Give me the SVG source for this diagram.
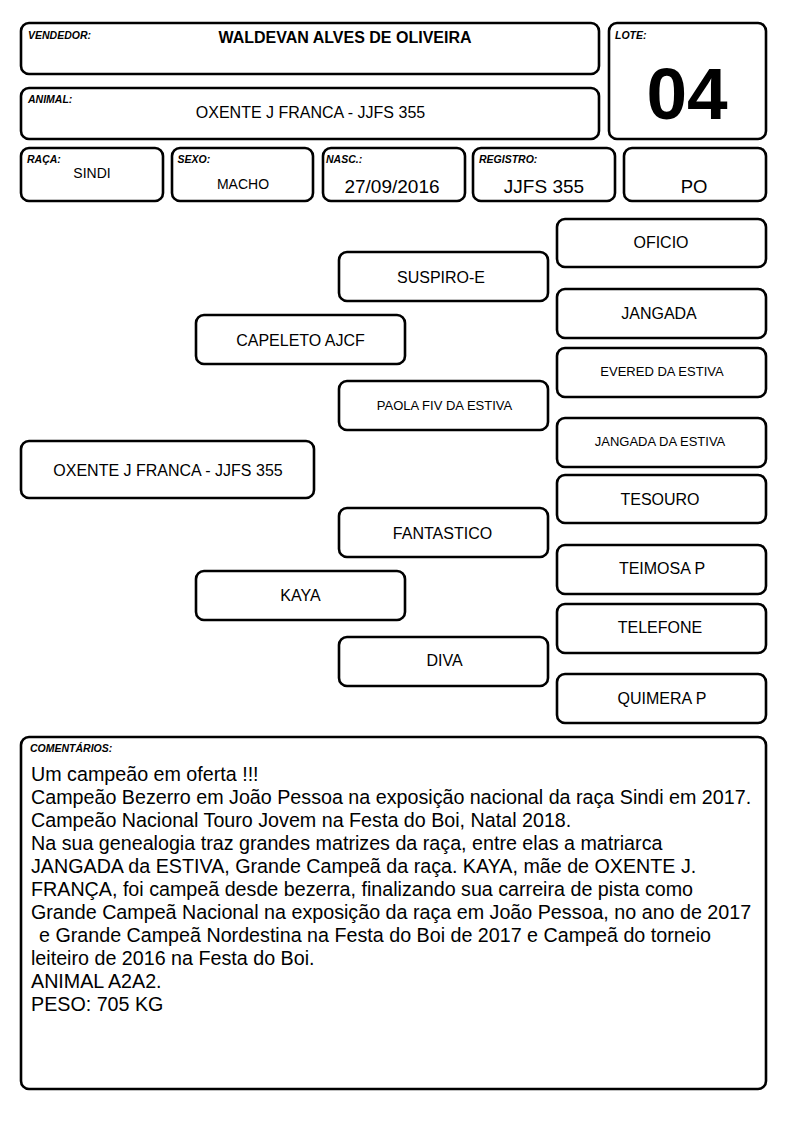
<svg xmlns="http://www.w3.org/2000/svg" width="794" height="1123" viewBox="0 0 794 1123">
<style>
.box{fill:#fff;stroke:#000;stroke-width:2.6}
text{font-family:"Liberation Sans",Arial,sans-serif;fill:#000}
.lbl{font-size:10.5px;font-weight:bold;font-style:italic}
.v14{font-size:14px;text-anchor:middle}
.v16{font-size:16px;text-anchor:middle}
.v19{font-size:19px;text-anchor:middle}
.p16{font-size:16px;text-anchor:middle}
.p13{font-size:13px;text-anchor:middle}
.cm{font-size:19.7px}
</style>
<rect width="794" height="1123" fill="#fff"/>
<g id="vendedor">
<rect class="box" x="21" y="23" width="578" height="51" rx="8"/>
<text class="lbl" x="28" y="39">VENDEDOR:</text>
<text x="345" y="43" style="font-size:16px;font-weight:bold;text-anchor:middle">WALDEVAN ALVES DE OLIVEIRA</text>
</g>
<g id="animal">
<rect class="box" x="21" y="88" width="578" height="51" rx="8"/>
<text class="lbl" x="28" y="103">ANIMAL:</text>
<text class="v16" x="310.5" y="118">OXENTE J FRANCA - JJFS 355</text>
</g>
<g id="lote">
<rect class="box" x="609" y="23" width="157" height="116" rx="8"/>
<text class="lbl" x="615" y="39">LOTE:</text>
<text x="687" y="118.5" style="font-size:73px;font-weight:bold;text-anchor:middle">04</text>
</g>
<g id="raca">
<rect class="box" x="21" y="148" width="142" height="53" rx="8"/>
<text class="lbl" x="27" y="163">RAÇA:</text>
<text class="v14" x="92" y="178">SINDI</text>
</g>
<g id="sexo">
<rect class="box" x="172" y="148" width="141" height="53" rx="8"/>
<text class="lbl" x="177.5" y="163">SEXO:</text>
<text class="v14" x="243" y="189">MACHO</text>
</g>
<g id="nasc">
<rect class="box" x="323" y="148" width="142" height="53" rx="8"/>
<text class="lbl" x="326" y="163">NASC.:</text>
<text class="v19" x="392" y="193">27/09/2016</text>
</g>
<g id="registro">
<rect class="box" x="473" y="148" width="142" height="53" rx="8"/>
<text class="lbl" x="479" y="163">REGISTRO:</text>
<text class="v19" x="544" y="193">JJFS 355</text>
</g>
<g id="po">
<rect class="box" x="624" y="148" width="142" height="53" rx="8"/>
<text x="694" y="193" style="font-size:18.5px;text-anchor:middle">PO</text>
</g>
<g id="connectors"></g>
<g id="ped-oxente">
<rect class="box" x="21" y="441" width="293" height="57" rx="8"/>
<text class="p16" x="168" y="476">OXENTE J FRANCA - JJFS 355</text>
</g>
<g id="ped-capeleto">
<rect class="box" x="196" y="315" width="209" height="49" rx="8"/>
<text class="p16" x="300.5" y="346">CAPELETO AJCF</text>
</g>
<g id="ped-kaya">
<rect class="box" x="196" y="571" width="209" height="49" rx="8"/>
<text class="p16" x="300.5" y="601">KAYA</text>
</g>
<g id="ped-suspiro">
<rect class="box" x="339" y="252" width="209" height="49" rx="8"/>
<text class="p16" x="441" y="282.5">SUSPIRO-E</text>
</g>
<g id="ped-paola">
<rect class="box" x="339" y="381" width="209" height="49" rx="8"/>
<text class="p13" x="444.5" y="410">PAOLA FIV DA ESTIVA</text>
</g>
<g id="ped-fantastico">
<rect class="box" x="339" y="508" width="209" height="49" rx="8"/>
<text class="p16" x="442.5" y="538.5">FANTASTICO</text>
</g>
<g id="ped-diva">
<rect class="box" x="339" y="637" width="209" height="49" rx="8"/>
<text class="p16" x="444.5" y="666">DIVA</text>
</g>
<g id="ped-oficio">
<rect class="box" x="557" y="219" width="209" height="48" rx="8"/>
<text class="p16" x="661" y="248">OFICIO</text>
</g>
<g id="ped-jangada">
<rect class="box" x="557" y="289" width="209" height="49" rx="8"/>
<text class="p16" x="659" y="318.5">JANGADA</text>
</g>
<g id="ped-evered">
<rect class="box" x="557" y="348" width="209" height="49" rx="8"/>
<text class="p13" x="662" y="376">EVERED DA ESTIVA</text>
</g>
<g id="ped-jangada-estiva">
<rect class="box" x="557" y="418" width="209" height="49" rx="8"/>
<text class="p13" x="660" y="445.5">JANGADA DA ESTIVA</text>
</g>
<g id="ped-tesouro">
<rect class="box" x="557" y="475" width="209" height="48" rx="8"/>
<text class="p16" x="660" y="505">TESOURO</text>
</g>
<g id="ped-teimosa">
<rect class="box" x="557" y="545" width="209" height="49" rx="8"/>
<text class="p16" x="662" y="573.5">TEIMOSA P</text>
</g>
<g id="ped-telefone">
<rect class="box" x="557" y="604" width="209" height="49" rx="8"/>
<text class="p16" x="660" y="633">TELEFONE</text>
</g>
<g id="ped-quimera">
<rect class="box" x="557" y="674" width="209" height="49" rx="8"/>
<text class="p16" x="662" y="703.5">QUIMERA P</text>
</g>
<g id="comentarios">
<rect class="box" x="21" y="737" width="745" height="352" rx="8"/>
<text class="lbl" x="30" y="752">COMENTÁRIOS:</text>
<text class="cm" x="31" y="780.5">Um campeão em oferta !!!</text>
<text class="cm" x="31" y="803.5">Campeão Bezerro em João Pessoa na exposição nacional da raça Sindi em 2017.</text>
<text class="cm" x="31" y="826.5">Campeão Nacional Touro Jovem na Festa do Boi, Natal 2018.</text>
<text class="cm" x="31" y="849.5">Na sua genealogia traz grandes matrizes da raça, entre elas a matriarca</text>
<text class="cm" x="31" y="872.5">JANGADA da ESTIVA, Grande Campeã da raça. KAYA, mãe de OXENTE J.</text>
<text class="cm" x="31" y="895.5">FRANÇA, foi campeã desde bezerra, finalizando sua carreira de pista como</text>
<text class="cm" x="31" y="918.5">Grande Campeã Nacional na exposição da raça em João Pessoa, no ano de 2017</text>
<text class="cm" x="39" y="941.5">e Grande Campeã Nordestina na Festa do Boi de 2017 e Campeã do torneio</text>
<text class="cm" x="31" y="964.5">leiteiro de 2016 na Festa do Boi.</text>
<text class="cm" x="31" y="987.5">ANIMAL A2A2.</text>
<text class="cm" x="31" y="1010.5">PESO: 705 KG</text>
</g>
</svg>
